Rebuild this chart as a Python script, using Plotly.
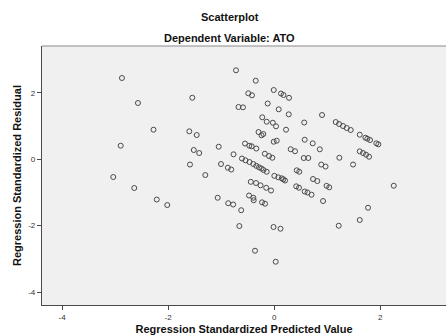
import plotly.graph_objects as go

# Standardized predicted values (x) and standardized residuals (y)
pred = [
    -2.872, -2.570, -2.277, -2.896, -3.036, -2.640, -2.215, -2.017,
    -1.545, -1.602, -1.462, -1.517, -1.415, -1.589, -1.300, -1.047,
    -1.004, -0.875, -0.811, -1.066, -0.868, -0.774, -0.623, -0.658,
    -0.362, 0.028, -0.721, -0.349, -0.489, -0.419, -0.674, -0.589,
    -0.009, 0.128, 0.175, 0.279, -0.123, 0.085, 0.274, -0.226,
    -0.142, -0.026, 0.034, 0.223, -0.296, -0.240, -0.206, -0.009,
    0.047, -0.551, -0.470, -0.425, -0.338, -0.768, -0.608, -0.542,
    -0.466, -0.394, -0.338, -0.287, -0.240, -0.202, -0.142, -0.177,
    -0.098, -0.036, 0.902, 0.566, 1.160, 1.223, 1.298, 1.368,
    1.443, 1.613, 1.719, 1.757, 1.808, 1.926, 1.964, 0.575,
    0.726, 0.860, 0.311, 0.392, 0.558, 0.643, 1.228, 1.613,
    1.675, 1.732, 1.789, 0.887, 0.968, 1.487, 0.002, 0.077,
    0.142, 0.172, 0.204, 0.425, 0.472, 0.732, 0.813, 0.415,
    0.468, 0.575, 0.628, 0.704, 0.987, 1.038, 0.921, 2.255,
    1.770, 1.613, 1.217, 0.119, -0.013, -0.442, -0.343, -0.258,
    -0.151, -0.060, -0.475, -0.394, -0.387, -0.230, -0.174,
]
resid = [
    2.446, 1.693, 0.889, 0.407, -0.536, -0.867, -1.214, -1.380,
    1.852, 0.840, 0.729, 0.277, 0.187, -0.160, -0.476, 0.377,
    -0.145, -0.256, -0.310, -1.160, -1.325, -1.364, -1.536, -2.012,
    -2.756, -3.087, 2.678, 2.364, 1.985, 1.925, 1.572, 1.563,
    2.084, 1.979, 1.934, 1.849, 1.678, 1.503, 1.352, 1.262,
    1.130, 1.099, 0.991, 0.889, 0.819, 0.720, 0.759, 0.527,
    0.557, 0.473, 0.407, 0.389, 0.322, 0.148, 0.021, -0.033,
    -0.084, -0.145, -0.199, -0.244, -0.280, -0.325, -0.377, 0.166,
    0.096, 0.045, 1.331, 1.105, 1.120, 1.060, 1.000, 0.940,
    0.880, 0.738, 0.648, 0.617, 0.578, 0.479, 0.449, 0.587,
    0.479, 0.298, 0.301, 0.241, 0.036, 0.036, 0.045, 0.238,
    0.187, 0.136, 0.075, -0.160, -0.220, -0.160, -0.500, -0.545,
    -0.575, -0.605, -0.642, -0.334, -0.377, -0.596, -0.657, -0.816,
    -0.858, -0.973, -1.003, -1.069, -0.801, -0.846, -1.259, -0.798,
    -1.461, -1.831, -2.003, -2.093, -2.042, -0.681, -0.717, -0.786,
    -0.861, -0.943, -1.093, -1.160, -1.235, -1.298, -1.340,
]

tick_vals = [-4, -2, 0, 2]
tick_text = ["-4", "-2", "0", "2"]

FONT = "Liberation Sans, Arial, sans-serif"

fig = go.Figure(
    go.Scatter(
        x=pred,
        y=resid,
        mode="markers",
        marker=dict(symbol="circle-open", size=5, color="#4a4a4a",
                    line=dict(width=1, color="#4a4a4a")),
        hoverinfo="x+y",
    )
)

axis_common = dict(
    showgrid=False,
    zeroline=False,
    showline=True,
    linecolor="#4a4a4a",
    linewidth=1.3,
    ticks="outside",
    ticklen=4,
    tickcolor="#4a4a4a",
    tickfont=dict(family=FONT, size=8, color="#333333"),
    tickvals=tick_vals,
    ticktext=tick_text,
)

fig.update_layout(
    width=446,
    height=336,
    margin=dict(l=42, r=0, t=46, b=31),
    paper_bgcolor="white",
    plot_bgcolor="#f0f0f0",
    showlegend=False,
    font=dict(family=FONT, color="#111111"),
    xaxis=dict(range=[-4.38, 3.24], **axis_common,
               title=dict(text="<b>Regression Standardized Predicted Value</b>",
                          font=dict(family=FONT, size=11), standoff=4)),
    yaxis=dict(range=[-4.39, 3.41], **axis_common,
               title=dict(text="<b>Regression Standardized Residual</b>",
                          font=dict(family=FONT, size=11), standoff=4)),
    annotations=[
        dict(text="<b>Scatterplot</b>", x=0.465, y=1.112,
             xref="paper", yref="paper", showarrow=False,
             font=dict(family=FONT, size=11), xanchor="center", yanchor="middle"),
        dict(text="<b>Dependent Variable: ATO</b>", x=0.465, y=1.031,
             xref="paper", yref="paper", showarrow=False,
             font=dict(family=FONT, size=11), xanchor="center", yanchor="middle"),
    ],
    shapes=[
        dict(type="line", xref="x domain", yref="y domain", x0=0, x1=1, y0=1, y1=1,
             line=dict(color="#8a8a8a", width=1)),
    ],
)

fig.write_html("out.html")
